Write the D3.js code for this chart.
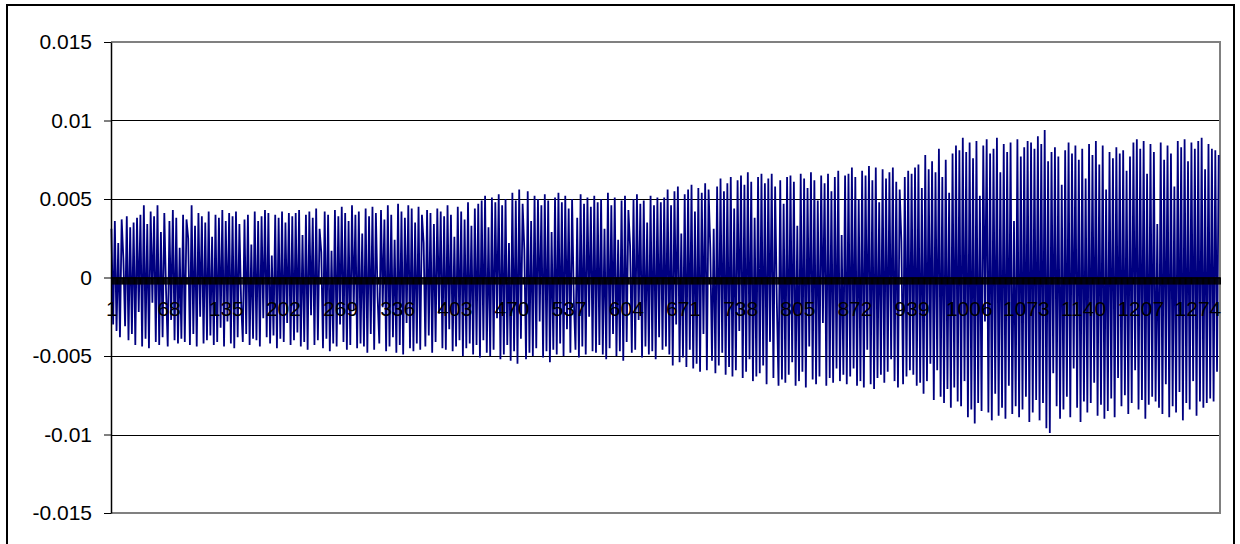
<!DOCTYPE html>
<html>
<head>
<meta charset="utf-8">
<script src="https://cdn.jsdelivr.net/npm/d3@7"></script>
<style>
  body { margin: 0; background: #fff; }
  svg text { font-family: "Liberation Sans", Arial, sans-serif; font-size: 21px; fill: #000; }
</style>
</head>
<body>
<div id="chart"></div>
<script>
// Number of categories on the x axis (Excel style, labelled every 67th).
var categoryCount = 1300;
var categoryLabels = [1, 68, 135, 202, 269, 336, 403, 470, 537, 604, 671, 738, 805, 872, 939, 1006, 1073, 1140, 1207, 1274];
var valueTicks = [0.015, 0.01, 0.005, 0, -0.005, -0.01, -0.015];

// Turning points of the series (units of 0.001),
// one every 2 categories starting at category 1.
var turnStride = 2;
var seg1 = [3.1, -3.0, 3.6, -3.4, 2.2, -3.8, 3.7, 1.2, -3.1, 3.9, -4.0, 3.2, -3.6, 3.5, -4.3, 3.8, -2.2, 4.0, -4.4, 4.6,
            -3.9, 3.4, -4.5, 4.2, -1.6, 3.9, -4.1, 4.6, -4.3, 2.9, -3.8, 4.1, -0.8, -4.4, 3.6, -2.7, 4.3, -4.0, 3.8, -4.2,
            1.9, -3.9, 4.0, -4.1, 3.7, 2.5, -4.3, 4.6, -3.6, 3.3, -4.4, 4.1, -2.5, 3.9, -4.2, 3.5, -4.0, 4.2, -3.7, 2.6,
            -4.3, 4.0, -4.1, 3.8, -3.2, 4.3, -4.4, 3.6, -2.8, 4.1, -4.2, 3.9, -4.5, 4.2, -3.8, 3.4, -1.5, -4.1, 3.7, -3.6,
            4.0, -4.3, 2.1, -3.9, 4.2, -4.0, 3.6, -4.4, 3.9, -2.6, 4.3, -3.8, 4.1, -4.2, 1.4, -3.7, 4.0, -4.5, 3.8, -3.9,
            4.2, -4.1, 3.5, -2.9, 4.1, -4.3, 3.9, -4.0];
var seg2 = [4.1, -3.5, 4.3, -4.4, 2.7, -4.1, 4.0, -4.6, 4.2, -2.4, 3.8, -4.3, 4.4, -4.0, 3.1, 1.6, -4.5, 4.2, -3.9, 4.0,
            -4.7, 1.7, -4.2, 4.3, -4.4, 3.9, -3.0, 4.5, -4.1, 4.1, -4.6, 3.6, -4.3, 4.6, -2.1, 4.0, -4.5, 4.2, -4.2, 2.8,
            -4.4, 4.4, -4.8, 3.9, -3.6, 4.5, -4.6, 4.1, -1.2, -4.2, 4.3, -1.9, 3.7, -4.7, 4.6, -4.4, 4.0, -3.8, 2.4, -4.8,
            4.7, -4.3, 4.2, -4.9, 3.8, -2.9, 4.6, -4.5, 4.4, -4.7, 3.5, -4.2, 4.5, -4.6, 4.0, 2.2, -4.4, 4.3, -3.7, 4.1,
            -4.8, 3.4, -4.1, 4.4, -2.3, 4.2, -4.5, 3.9, -4.6, 4.6, -3.3, 4.0, -4.7, 2.6, -4.4, 4.5, -4.0, 4.2, -5.0, 3.7,
            -4.5, 4.8, -4.2, 3.3, -4.9, 4.4, -4.3, 4.7];
var seg3 = [-5.1, 4.9, -4.0, 5.2, -4.8, 3.2, -5.0, 5.1, -4.6, 4.8, -2.6, 5.3, -5.2, 4.6, -4.9, 5.0, -4.3, 2.2, -5.3, 5.4,
            -4.7, 4.9, -5.5, 5.6, -3.9, 4.7, 1.8, -5.2, 5.5, -4.8, 3.6, -5.0, 5.2, -4.5, 5.0, -2.8, 4.6, -5.1, 5.3, -4.7,
            4.9, -5.4, 2.9, -4.6, 5.1, -4.9, 5.4, -4.2, 4.8, -5.0, 5.2, -3.3, 4.4, -4.8, 5.0, -1.4, -4.6, 3.8, -5.1, 5.3,
            -4.4, 4.7, -4.9, 5.1, -2.5, 4.5, -4.7, 5.2, -4.8, 4.8, -4.3, 5.0, -4.9, 3.1, -5.2, 5.4, -4.5, 4.6, -3.6, 5.1,
            -5.0, 2.4, -4.7, 4.9, -5.3, 5.2, -4.1, 4.3, 2.0, -4.8, 5.0, -4.6, 5.3, -2.7, 4.7, -5.1, 4.9, -4.4, 3.5, -4.9,
            5.2, -4.7, 4.6, -5.2, 5.1, -3.8, 4.8, -4.6];
var seg4 = [5.1, -4.4, 5.6, -4.9, 4.6, -5.6, 5.5, -3.0, 5.8, -5.4, 2.8, -5.1, 5.3, -5.7, 5.6, -4.6, 5.9, -5.8, 4.2, -5.5,
            5.7, -6.0, 5.4, -3.6, 6.0, -5.9, 5.6, 1.9, -5.3, 3.1, -6.1, 5.8, -5.6, 6.3, -4.8, 5.5, -6.2, 6.0, -5.7, 6.4,
            -6.3, 4.4, -5.9, 6.2, -3.4, 6.5, -6.4, 5.9, -6.0, 6.7, -5.2, 6.1, -6.6, 3.8, -6.3, 6.4, -6.1, 6.6, -5.6, 6.0,
            -6.8, 6.3, -4.1, 6.6, -6.4, 5.8, -1.6, -6.9, 6.2, -6.5, 4.7, -6.7, 6.4, -6.2, 6.5, -5.4, 6.1, -6.9, 3.3, -6.6,
            6.6, -6.0, 6.3, -7.0, 5.7, -4.4, 6.7, -6.5, 6.2, -6.8, 4.9, -6.3, 6.5, -2.9, 6.0, -6.9, 6.6, -6.4, 5.5, -6.7,
            6.4, -5.8, 6.8, -6.6, 2.7, -6.2, 6.5, -6.8];
var seg5 = [6.6, -6.3, 7.0, -5.8, 6.4, -6.9, 5.0, -6.6, 6.8, -7.0, 6.5, -4.6, 7.1, -6.8, 6.2, -7.1, 7.0, -6.4, 4.8, -6.2,
            6.9, -6.7, 6.3, -6.0, 6.7, -5.2, 7.0, -6.6, 6.1, -7.0, 5.6, 2.3, -6.8, 6.4, -6.3, 6.8, -5.9, 6.6, -6.2, 7.0,
            -6.9, 7.2, -6.7, 5.7, -7.4, 7.8, -6.6, 6.9, -5.5, 7.4, -7.8, 6.7, -5.9, 8.2, -7.6, 6.4, -8.0, 7.5, -7.1, 5.4,
            -8.3, 7.9, -7.0, 8.4, -7.9, 8.1, -8.2, 8.9, -6.6, 8.0, -8.9, 8.6, -8.4, 7.6, -9.3, 8.7, -8.0, 5.2, -8.5, 8.4,
            -2.8, 8.8, -8.6, 7.9, -9.1, 8.2, -7.4, 8.9, -8.8, 6.7, -8.3, 8.5, -9.0, 8.0, -6.9, 8.6, -8.7, 3.6, -8.2, 8.8,
            -8.9, 7.7, -8.4, 8.3, -7.6, 8.7, -9.2, 8.6];
var seg6 = [-8.6, 8.2, -7.8, 9.0, -9.1, 8.5, -8.0, 9.4, -9.6, 7.4, -9.9, 8.0, -6.1, 8.3, -8.2, 7.7, -9.0, 5.9, -8.4, 8.1,
            -7.6, 8.6, -8.9, 7.9, -5.8, 8.4, -8.3, 7.5, -9.2, 8.2, -7.9, 6.3, -8.6, 8.5, -8.0, 7.8, -6.7, 8.7, -8.8, 7.2,
            -8.1, 8.4, -9.0, 5.6, -8.5, 8.0, -7.7, 7.6, -8.9, 8.3, -6.4, 7.9, -8.2, 8.1, -7.5, 6.8, -8.7, 7.7, -8.0, 8.6,
            -5.9, 8.8, -8.4, 8.2, -7.8, 8.7, -9.0, 6.6, -8.1, 8.5, -7.6, 8.0, -7.9, 3.4, -8.3, 8.6, -8.7, 7.5, -6.8, 8.4,
            -8.9, 7.9, -8.2, 5.8, -8.6, 8.7, -7.3, 8.3, -9.1, 8.8, -8.0, 7.4, -8.4, 8.6, -6.6, 8.2, -8.8, 8.7, -7.9, 8.9,
            -8.3, 6.9, -8.0, 8.5, -7.7, 8.2, -7.9, 8.1, -6.0, 7.8];

var turns = [].concat(seg1, seg2, seg3, seg4, seg5, seg6);
var points = turns.map(function (v, i) {
	return { cat: 1 + i * turnStride, value: v / 1000 };
});

// Layout.
var width = 1240, height = 544;
var plot = { left: 111, right: 1220, top: 42, bottom: 513 };

var svg = d3.select('#chart')
			.append('svg')
			.attr('width', width)
			.attr('height', height);

// Outer chart border (bottom edge falls just off the picture).
svg.append('rect')
	.attr('x', 7).attr('y', 5)
	.attr('width', 1227).attr('height', 545)
	.attr('fill', 'none')
	.attr('stroke', '#000')
	.attr('stroke-width', 2);

var x = d3.scaleLinear()
		  .domain([0.5, categoryCount + 0.5])
		  .range([plot.left, plot.right]);
var y = d3.scaleLinear()
		  .domain([-0.015, 0.015])
		  .range([plot.bottom, plot.top]);

// Horizontal gridlines.
svg.selectAll('.grid')
	.data([0.01, 0.005, -0.005, -0.01])
	.enter()
	.append('line')
	.attr('x1', plot.left).attr('x2', plot.right)
	.attr('y1', function (d) { return Math.round(y(d)) + 0.5; })
	.attr('y2', function (d) { return Math.round(y(d)) + 0.5; })
	.attr('stroke', '#000')
	.attr('stroke-width', 1);

// Gray plot-area border (top, right, bottom).
svg.append('path')
	.attr('d', 'M' + plot.left + ',' + plot.top + 'H' + plot.right + 'V' + plot.bottom + 'H' + plot.left)
	.attr('fill', 'none')
	.attr('stroke', '#808080')
	.attr('stroke-width', 2);

// The series.
var line = d3.line()
			 .x(function (d) { return x(d.cat); })
			 .y(function (d) { return y(d.value); });

svg.append('path')
	.datum(points)
	.attr('d', line)
	.attr('fill', 'none')
	.attr('stroke', '#000080')
	.attr('stroke-width', 1.8)
	.attr('stroke-linejoin', 'miter');

// Category axis crossing at zero: a tick at every category boundary.
var tickPositions = d3.range(0, categoryCount + 1).map(function (i) { return i + 0.5; });
svg.append('g')
	.attr('transform', 'translate(0,' + y(0) + ')')
	.call(d3.axisBottom(x).tickValues(tickPositions).tickFormat('').tickSize(7).tickSizeOuter(0))
	.call(function (g) {
		g.select('.domain').attr('stroke', '#000').attr('stroke-width', 1.5);
		g.selectAll('.tick line').attr('stroke', '#000').attr('stroke-width', 1);
	});

svg.append('g')
	.attr('transform', 'translate(0,' + y(0) + ')')
	.call(d3.axisBottom(x).tickValues(categoryLabels).tickFormat(d3.format('d')).tickSize(0).tickPadding(24))
	.call(function (g) {
		g.select('.domain').remove();
		g.selectAll('text').attr('font-size', 21).attr('font-family', '"Liberation Sans", Arial, sans-serif').attr('fill', '#000');
	});

// Value axis.
svg.append('g')
	.attr('transform', 'translate(' + plot.left + ',0)')
	.call(d3.axisLeft(y).tickValues(valueTicks).tickSize(7).tickSizeOuter(0).tickPadding(12)
		.tickFormat(function (d) { return String(+d.toFixed(3)); }))
	.call(function (g) {
		g.select('.domain').attr('stroke', '#000').attr('stroke-width', 1.5);
		g.selectAll('.tick line').attr('stroke', '#000').attr('stroke-width', 1);
		g.selectAll('text').attr('font-size', 21).attr('font-family', '"Liberation Sans", Arial, sans-serif').attr('fill', '#000');
	});
</script>
</body>
</html>
